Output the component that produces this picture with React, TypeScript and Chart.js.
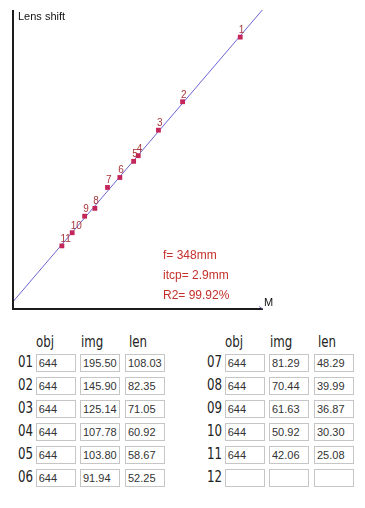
import React, { useEffect, useRef } from "react";
import { Chart, registerables } from "chart.js";

Chart.register(...registerables);

// ---- data ----
const pointLabels = ["1", "2", "3", "4", "5", "6", "7", "8", "9", "10", "11"];
const objDist = [644, 644, 644, 644, 644, 644, 644, 644, 644, 644, 644];
const imgDist = [195.5, 145.9, 125.14, 107.78, 103.8, 91.94, 81.29, 70.44, 61.63, 50.92, 42.06];
const lensShift = [108.03, 82.35, 71.05, 60.92, 58.67, 52.25, 48.29, 39.99, 36.87, 30.3, 25.08];
const rowLabels = ["01", "02", "03", "04", "05", "06", "07", "08", "09", "10", "11", "12"];
const columnHeaders = ["obj", "img", "len"];
const focalMm = 348;
const interceptMm = 2.9;
const r2Percent = "99.92";
const X_MAX = 0.334;
const Y_MAX = 118.8;

const FONT = "'Liberation Sans', Arial, sans-serif";
const NARROW = "'Liberation Sans Narrow', 'DejaVu Sans Condensed', 'Roboto', sans-serif";

function ChartCanvas() {
  const ref = useRef<HTMLCanvasElement | null>(null);
  useEffect(() => {
    if (!ref.current) return;
    const pts = imgDist.map((v, i) => ({ x: v / objDist[i], y: lensShift[i] }));
    const overlay = {
      id: "overlay",
      afterDatasetsDraw(chart: any) {
        const ctx = chart.ctx;
        const meta = chart.getDatasetMeta(0);
        ctx.save();
        ctx.font = `10px ${FONT}`;
        ctx.fillStyle = "#a8363a";
        ctx.textAlign = "left";
        ctx.textBaseline = "alphabetic";
        meta.data.forEach((el: any, i: number) => {
          ctx.fillText(pointLabels[i], el.x - 1.5, el.y - 4);
        });
        ctx.restore();
      },
      afterDraw(chart: any) {
        const ctx = chart.ctx;
        const a = chart.chartArea;
        ctx.save();
        ctx.strokeStyle = "#1c1c1c";
        ctx.lineWidth = 2;
        ctx.beginPath();
        ctx.moveTo(a.left, a.top);
        ctx.lineTo(a.left, a.bottom);
        ctx.lineTo(a.right, a.bottom);
        ctx.stroke();
        ctx.strokeStyle = "#7a78b8";
        ctx.lineWidth = 1;
        ctx.beginPath();
        ctx.moveTo(a.right - 4, a.bottom - 2.5);
        ctx.lineTo(a.right, a.bottom);
        ctx.stroke();
        ctx.fillStyle = "#111";
        ctx.font = `11px ${FONT}`;
        ctx.textAlign = "left";
        ctx.textBaseline = "alphabetic";
        ctx.fillText("Lens shift", a.left + 5, a.top + 10);
        ctx.fillText("M", a.right + 1, a.bottom - 3);
        ctx.fillStyle = "#c4302b";
        ctx.font = `12px ${FONT}`;
        ctx.fillText(`f= ${focalMm}mm`, 163, 259);
        ctx.fillText(`itcp= ${interceptMm}mm`, 163, 279);
        ctx.fillText(`R2= ${r2Percent}%`, 163, 299);
        ctx.restore();
      },
    };
    const chart = new Chart(ref.current, {
      type: "scatter",
      data: {
        datasets: [
          {
            data: pts,
            pointStyle: "rect",
            pointRadius: 3.4,
            borderWidth: 0,
            backgroundColor: "#c4265a",
            borderColor: "#c4265a",
          } as any,
          {
            data: [
              { x: 0, y: interceptMm },
              { x: X_MAX, y: focalMm * X_MAX + interceptMm },
            ],
            showLine: true,
            pointRadius: 0,
            borderColor: "#6c64d2",
            borderWidth: 1,
          } as any,
        ],
      },
      options: {
        animation: false,
        responsive: false,
        layout: { padding: { left: 13, top: 10, right: 102, bottom: 11 } },
        plugins: { legend: { display: false }, tooltip: { enabled: false } },
        scales: {
          x: { type: "linear", min: 0, max: X_MAX, display: false },
          y: { type: "linear", min: 0, max: Y_MAX, display: false },
        },
      },
      plugins: [overlay],
    });
    return () => chart.destroy();
  }, []);
  return <canvas ref={ref} width={365} height={320} style={{ position: "absolute", left: 0, top: 0 }} />;
}

function fmt(v: number | undefined, int = false) {
  if (v === undefined) return "";
  return int ? String(v) : v.toFixed(2);
}

const narrowText: any = {
  position: "absolute",
  fontFamily: NARROW,
  fontSize: 16,
  lineHeight: "18px",
  color: "#222",
  transform: "scaleX(0.82)",
  transformOrigin: "left center",
  whiteSpace: "nowrap",
};

function Table({ startRow, left }: { startRow: number; left: number }) {
  const boxLefts = [17.7, 62, 107];
  const headerLefts = [18, 63, 111];
  const cells: any[] = [];
  columnHeaders.forEach((h, j) => {
    cells.push(
      <div key={"h" + j} style={{ ...narrowText, left: left + headerLefts[j], top: 333 }}>
        {h}
      </div>
    );
  });
  for (let r = 0; r < 6; r++) {
    const idx = startRow + r;
    const top = 354 + r * 23;
    cells.push(
      <div key={"l" + r} style={{ ...narrowText, left: left, top: top - 1 }}>
        {rowLabels[idx]}
      </div>
    );
    const vals = [fmt(objDist[idx], true), fmt(imgDist[idx]), fmt(lensShift[idx])];
    vals.forEach((v, j) => {
      cells.push(
        <div
          key={"c" + r + "_" + j}
          style={{
            position: "absolute",
            left: left + boxLefts[j],
            top: top,
            width: 40,
            height: 18,
            boxSizing: "border-box",
            border: "1px solid #c6c6c6",
            fontFamily: FONT,
            fontSize: 11,
            lineHeight: "17px",
            paddingLeft: 2,
            color: "#333",
            overflow: "hidden",
            whiteSpace: "nowrap",
          }}
        >
          {v}
        </div>
      );
    });
  }
  return <>{cells}</>;
}

export default function App() {
  return (
    <div style={{ position: "absolute", left: 0, top: 0, width: 365, height: 508, background: "#fff", overflow: "hidden" }}>
      <ChartCanvas />
      <Table startRow={0} left={18} />
      <Table startRow={6} left={207} />
    </div>
  );
}
